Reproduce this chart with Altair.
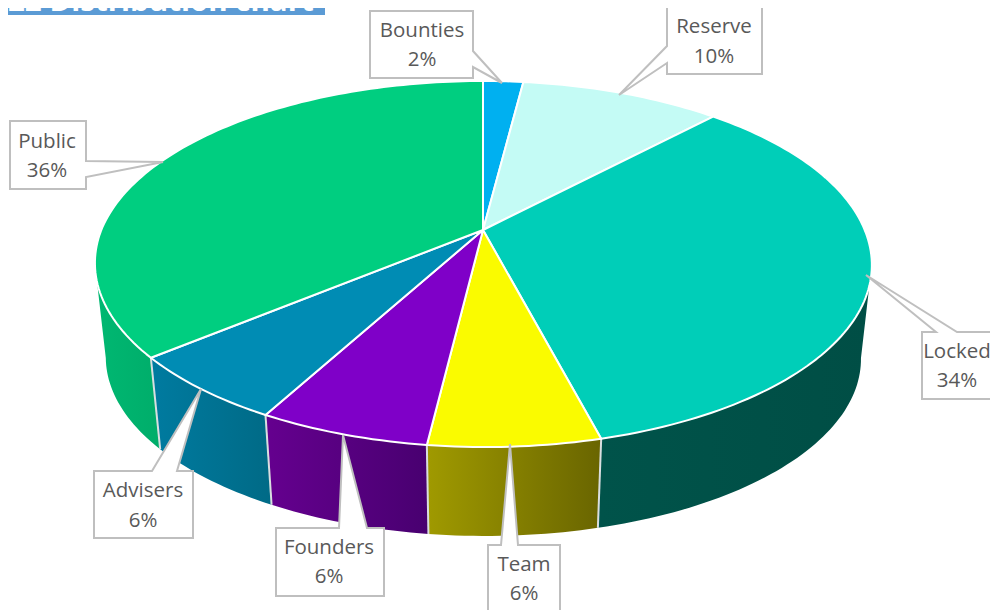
import math
import altair as alt
import pandas as pd

# ---- chart values ----
names = ["Bounties", "Reserve", "Locked", "Team", "Founders", "Advisers", "Public"]
shares = [2, 10, 34, 6, 6, 6, 36]
top_colors = ["#00B0F0", "#C4FBF5", "#00CEB8", "#FAFB00", "#7F00C8", "#008CB4", "#00CE80"]
wall_from = ["#00B0F0", "#C4FBF5", "#00534A", "#A09A00", "#65008F", "#007BA0", "#00B872"]
wall_to = ["#00B0F0", "#C4FBF5", "#004E45", "#696500", "#480070", "#006A86", "#00AD6A"]
title_text = "22 Distribution chart"

# ---- drawing geometry of the perspective disc (picture pixels) ----
APEX = (483.0, 230.0)
BOTTOM_APEX = (483.0, 325.0)
BOTTOM_SCALE = 0.972
RX, RY, TILT = 381.7, 176.7, 0.1858
FRONT_SKEW = 2.5 / 215
# where the rim turns back: the side walls are hidden behind the top past these points
FRONT_FROM = 100 * (math.pi - math.acos(TILT)) / (2 * math.pi)
FRONT_TO = 100 - FRONT_FROM

# callout layout: box x0, y0, x1, y1, tail side, tail a, tail b, tip x, tip y, text x, first line y, second line y
callouts = {
    "Bounties": (370, 11, 473, 78, "right", 51, 67, 502, 83, 422, 31, 60),
    "Reserve": (667, 7, 762, 74, "left", 46, 63, 619, 95, 714, 27, 57),
    "Locked": (922, 332, 1010, 399, "top", 936, 957, 866, 275, 957, 352, 381),
    "Team": (488, 545, 560, 630, "top", 501, 518, 510, 444, 524, 565, 594),
    "Founders": (276, 528, 384, 596, "top", 339, 367, 343, 435, 329, 548, 577),
    "Advisers": (94, 471, 193, 538, "top", 152, 177, 201, 389, 143, 491, 521),
    "Public": (10, 121, 86, 189, "right", 161, 177, 163, 162, 47, 142, 171),
}


def rim(theta):
    """Point of the disc's top rim at the pie angle theta (radians, clockwise from north)."""
    d = 1 + TILT * math.cos(theta)
    y = APEX[1] - RY * math.cos(theta) / d
    return (APEX[0] + RX * math.sin(theta) / d + FRONT_SKEW * max(0.0, y - APEX[1]), y)


def low(p):
    return (BOTTOM_APEX[0] + BOTTOM_SCALE * (p[0] - APEX[0]),
            BOTTOM_APEX[1] + BOTTOM_SCALE * (p[1] - APEX[1]))


def feature(coords, kind="Polygon", **props):
    geometry = {"type": "Polygon", "coordinates": [coords]} if kind == "Polygon" else {
        "type": "LineString", "coordinates": coords}
    return {"type": "Feature", "geometry": geometry, "properties": props}


def arc(a0, a1):
    n = max(2, int((a1 - a0) * 3) + 2)
    return [rim(2 * math.pi * (a0 + (a1 - a0) * i / (n - 1)) / 100) for i in range(n)]


PROJ = dict(type="identity", scale=1, translate=[-8, -8])

top_feats, sep_feats = [], []
wall_layers = []
start = 0
for name, share, col, c0, c1 in zip(names, shares, top_colors, wall_from, wall_to):
    end = start + share
    pts = arc(start, end)
    top_feats.append(feature([list(APEX)] + [list(p) for p in pts] + [list(APEX)], name=name, fill=col))
    w0, w1 = max(start, FRONT_FROM), min(end, FRONT_TO)
    if w1 > w0:
        wall = arc(w0, w1)
        ring = [list(p) for p in wall] + [list(low(p)) for p in reversed(wall)] + [list(wall[0])]
        wall_layers.append(
            alt.Chart(alt.Data(values=[feature(ring, name=name)]))
            .mark_geoshape(
                stroke="transparent",
                fill=alt.Gradient(gradient="linear", x1=0, x2=1, y1=0, y2=0,
                                  stops=[alt.GradientStop(color=c0, offset=0),
                                         alt.GradientStop(color=c1, offset=1)]),
            )
            .project(**PROJ)
        )
    if name in ("Locked", "Team", "Founders", "Advisers"):
        e = pts[-1]
        sep_feats.append(feature([list(e), list(low(e))], "LineString", name=name))
    start = end

sep_layer = (
    alt.Chart(alt.Data(values=sep_feats))
    .mark_geoshape(filled=False, stroke="#D9DEE0", strokeWidth=2)
    .project(**PROJ)
)
top_layer = (
    alt.Chart(alt.Data(values=top_feats))
    .mark_geoshape(stroke="#FFFFFF", strokeWidth=2, strokeJoin="round")
    .encode(fill=alt.Fill("properties.fill:N", scale=None, legend=None))
    .project(**PROJ)
)

# callout boxes
call_feats, text_rows = [], []
for name, share in zip(names, shares):
    x0, y0, x1, y1, side, a, b, tx, ty, lx, ly1, ly2 = callouts[name]
    if side == "right":
        ring = [[x0, y0], [x1, y0], [x1, a], [tx, ty], [x1, b], [x1, y1], [x0, y1], [x0, y0]]
    elif side == "left":
        ring = [[x0, y0], [x1, y0], [x1, y1], [x0, y1], [x0, b], [tx, ty], [x0, a], [x0, y0]]
    else:
        ring = [[x0, y0], [a, y0], [tx, ty], [b, y0], [x1, y0], [x1, y1], [x0, y1], [x0, y0]]
    call_feats.append(feature(ring, name=name))
    text_rows.append({"lon": lx, "lat": ly1, "text": name})
    text_rows.append({"lon": lx, "lat": ly2, "text": f"{share}%"})

call_layer = (
    alt.Chart(alt.Data(values=call_feats))
    .mark_geoshape(fill="#FFFFFF", stroke="#BFBFBF", strokeWidth=2)
    .project(**PROJ)
)
text_layer = (
    alt.Chart(pd.DataFrame(text_rows))
    .mark_text(font="Open Sans", fontSize=20.5, color="#595959", baseline="middle", align="center")
    .encode(longitude="lon:Q", latitude="lat:Q", text="text:N")
    .project(**PROJ)
)

# heading strip, cut by the top edge of the page
title_box = (
    alt.Chart(alt.Data(values=[feature([[0, -5], [325, -5], [325, 15], [0, 15], [0, -5]], name="title")]))
    .mark_geoshape(fill="#5B9BD5", stroke="transparent")
    .project(**PROJ)
)
title_label = (
    alt.Chart(pd.DataFrame({"lon": [8], "lat": [11], "text": [title_text]}))
    .mark_text(font="Open Sans", fontSize=29.5, fontWeight="bold", color="#FFFFFF",
               baseline="alphabetic", align="left")
    .encode(longitude="lon:Q", latitude="lat:Q", text="text:N")
    .project(**PROJ)
)

chart = (
    alt.layer(*wall_layers, sep_layer, top_layer, call_layer, text_layer, title_box, title_label)
    .properties(width=982, height=602, padding=0, autosize=alt.AutoSizeParams(type="none"),
                background="#FFFFFF")
    .configure_view(stroke=None)
)

chart.save("out.html", embed_options={"renderer": "svg", "actions": False})
